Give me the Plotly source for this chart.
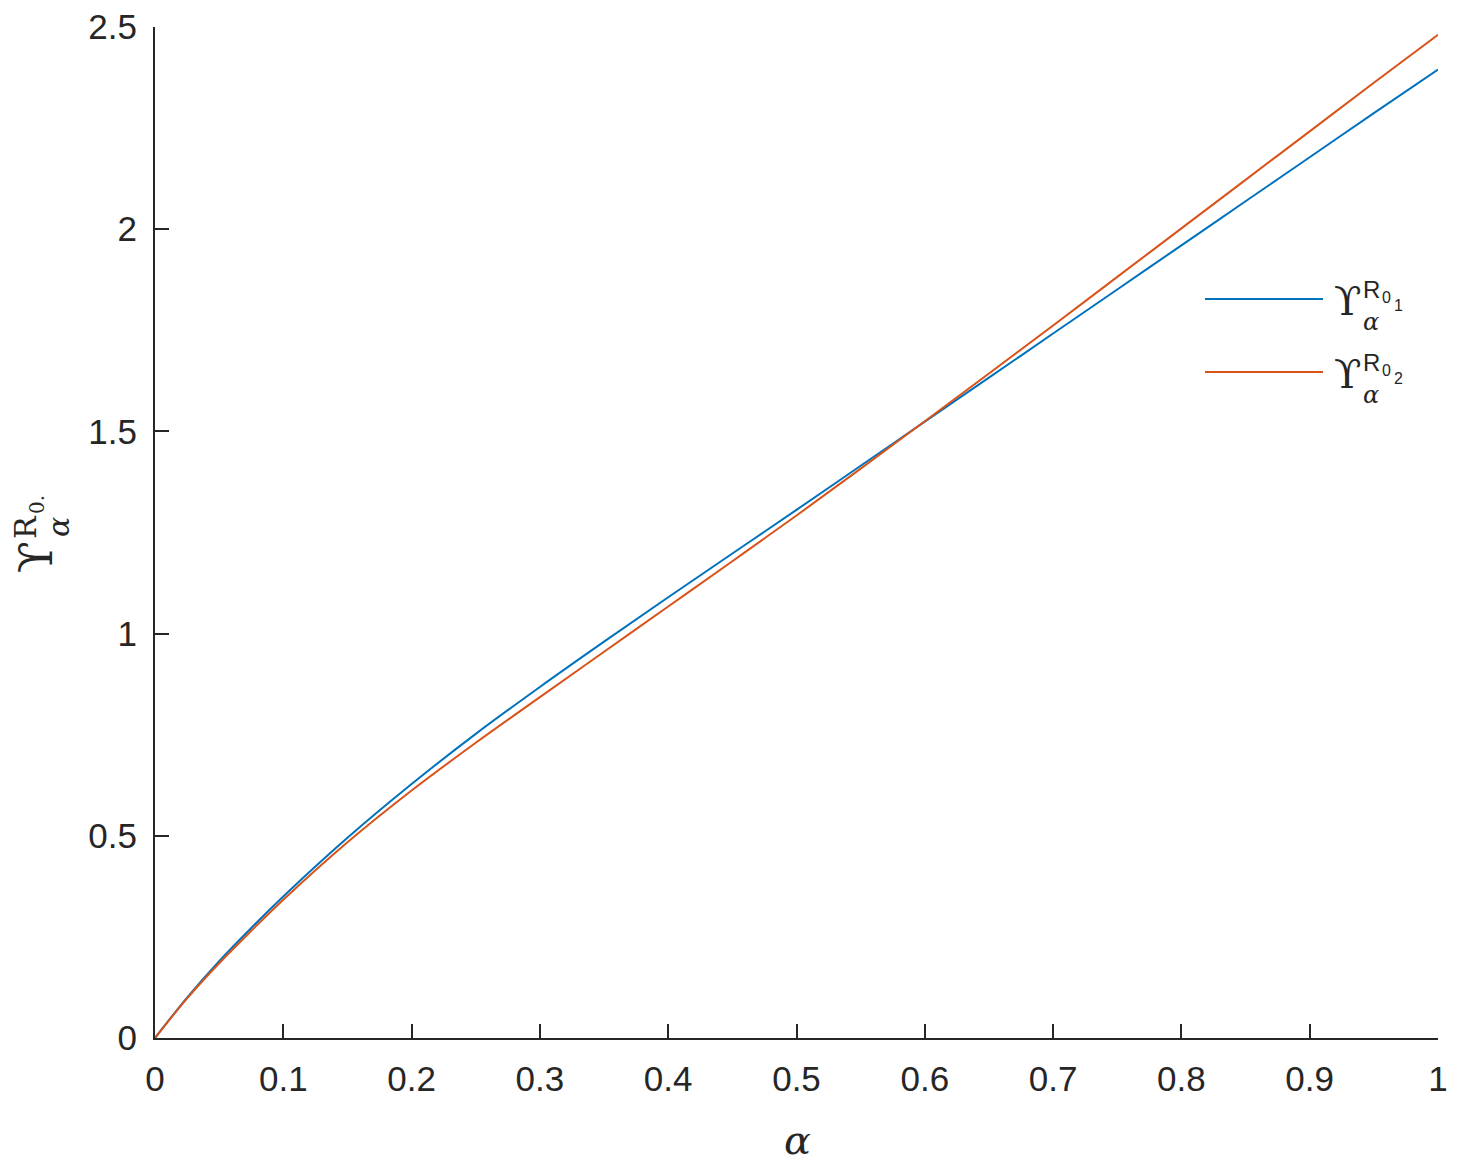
import plotly.graph_objects as go

# values
alpha = [0, 0.025, 0.05, 0.075, 0.1, 0.15, 0.2, 0.25, 0.3, 0.35, 0.4, 0.45,
         0.5, 0.55, 0.6, 0.65, 0.7, 0.75, 0.8, 0.85, 0.9, 0.95, 1.0]
ups_r01 = [0, 0.10, 0.19, 0.272, 0.35, 0.495, 0.628, 0.752, 0.868, 0.98, 1.09, 1.198,
           1.306, 1.415, 1.524, 1.633, 1.742, 1.851, 1.96, 2.069, 2.178, 2.287, 2.395]
ups_r02 = [0, 0.098, 0.185, 0.265, 0.342, 0.484, 0.612, 0.73, 0.843, 0.955, 1.067, 1.179,
           1.292, 1.408, 1.525, 1.643, 1.762, 1.882, 2.002, 2.122, 2.242, 2.362, 2.481]

x_ticks = [0, 0.1, 0.2, 0.3, 0.4, 0.5, 0.6, 0.7, 0.8, 0.9, 1]
x_ticktext = ['0', '0.1', '0.2', '0.3', '0.4', '0.5', '0.6', '0.7', '0.8', '0.9', '1']
y_ticks = [0, 0.5, 1, 1.5, 2, 2.5]
y_ticktext = ['0', '0.5', '1', '1.5', '2', '2.5']

blue = '#0072BD'
orange = '#D95319'
ink = '#262626'

W, H = 1468, 1173
OFF = 8  # page body margin
L, R, T, B = 155 - OFF, 30 + OFF, 27 - OFF, 135 + OFF
pw, ph = W - L - R, H - T - B


# screen pixel -> paper coords
def px(x):
    return (x - OFF - L) / pw


def py(y):
    return (H - B - (y - OFF)) / ph


fig = go.Figure()
fig.add_trace(go.Scatter(x=alpha, y=ups_r01, mode='lines', line=dict(color=blue, width=2),
                         line_shape='spline', showlegend=False))
fig.add_trace(go.Scatter(x=alpha, y=ups_r02, mode='lines', line=dict(color=orange, width=2),
                         line_shape='spline', showlegend=False))

serif = 'DejaVu Serif'
sans = 'Liberation Sans'
ann = []


def txt(x, y, s, size, family, angle=0, italic=False):
    if italic:
        s = '<i>' + s + '</i>'
    ann.append(dict(x=px(x), y=py(y), xref='paper', yref='paper', text=s, showarrow=False,
                    font=dict(size=size, family=family, color=ink), textangle=angle,
                    xanchor='center', yanchor='middle'))


# legend drawn by hand (long line samples like the original)
shapes = []
for i, (col, sub) in enumerate([(blue, '1'), (orange, '2')]):
    dy = 73 * i
    shapes.append(dict(type='line', xref='paper', yref='paper', x0=px(1205), x1=px(1323),
                       y0=py(299 + dy), y1=py(299 + dy), line=dict(color=col, width=2)))
    txt(1347, 301 + dy, 'ϒ', 40, serif)
    txt(1371, 322 + dy, 'α', 24, serif, italic=True)
    txt(1371, 289 + dy, 'R', 24, sans)
    txt(1386, 297 + dy, '0', 16, sans)
    txt(1398, 305 + dy, sub, 16, sans)

# axis titles
txt(797, 1140, 'α', 40, serif, italic=True)
txt(36, 557, 'ϒ', 46, serif, angle=-90)
txt(58, 527, 'α', 30, serif, angle=-90, italic=True)
txt(25, 527, 'R', 30, serif, angle=-90)
txt(37, 505, '0.', 20, serif, angle=-90)

fig.update_layout(
    width=W, height=H,
    margin=dict(l=L, r=R, t=T, b=B, autoexpand=False),
    paper_bgcolor='white', plot_bgcolor='white',
    annotations=ann, shapes=shapes,
    xaxis=dict(range=[0, 1], tickvals=x_ticks, ticktext=x_ticktext, ticks='inside',
               ticklen=14, tickwidth=2, tickcolor=ink, showline=True, linecolor=ink,
               linewidth=2, showgrid=False, zeroline=False, ticklabelstandoff=9,
               ticklabeloverflow='allow', automargin=False,
               tickfont=dict(family=sans, size=35, color=ink)),
    yaxis=dict(range=[0, 2.5], tickvals=y_ticks, ticktext=y_ticktext, ticks='inside',
               ticklen=14, tickwidth=2, tickcolor=ink, showline=True, linecolor=ink,
               linewidth=2, showgrid=False, zeroline=False, ticklabelstandoff=9,
               ticklabeloverflow='allow', automargin=False,
               tickfont=dict(family=sans, size=35, color=ink)),
)

fig.write_html('out.html')
